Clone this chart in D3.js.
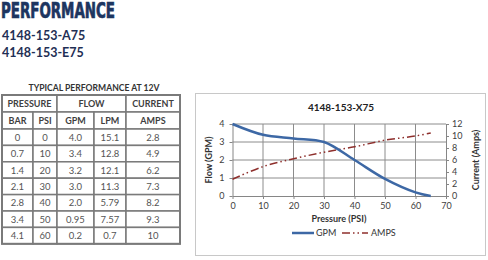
<!DOCTYPE html>
<html lang="en">
<head>
<meta charset="UTF-8" />
<title>Performance - 4148-153-X75</title>
<script src="https://d3js.org/d3.v7.min.js"></script>
<style>
    body { margin: 0; background: #fff; }
    svg { display: block; font-family: 'Lato', 'Open Sans', sans-serif; }
    .heading { font-family: 'Liberation Sans Narrow', 'DejaVu Sans Condensed', sans-serif; font-weight: bold; fill: #1d3560; stroke: #1d3560; stroke-width: 0.7; }
    .model { font-weight: bold; fill: #1f2f55; font-size: 12.5px; }
    .cell { fill: #fff; stroke: #7a7a7a; stroke-width: 1.5; }
    .cell-text { font-size: 9.5px; fill: #555; text-anchor: middle; }
    .cell-head { font-size: 9px; fill: #3f3f3f; font-weight: bold; text-anchor: middle; }
    .tick text { font-size: 9px; fill: #404040; font-family: 'Lato', sans-serif; }
    .grid line { stroke: #8c8c8c; stroke-width: 1; }
</style>
</head>
<body>
<svg id="page" width="488" height="260"></svg>
<script>
    // pump models
    const models = ["4148-153-A75", "4148-153-E75"];

    // table data (typical performance at 12V)
    const bar  = ["0", "0.7", "1.4", "2.1", "2.8", "3.4", "4.1"];
    const psi  = ["0", "10", "20", "30", "40", "50", "60"];
    const gpm  = ["4.0", "3.4", "3.2", "3.0", "2.0", "0.95", "0.2"];
    const lpm  = ["15.1", "12.8", "12.1", "11.3", "5.79", "7.57", "0.7"];
    const amps = ["2.8", "4.9", "6.2", "7.3", "8.2", "9.3", "10"];

    // chart series
    const pressure = [0, 10, 20, 30, 40, 50, 60, 65];
    const flowGpm  = [4.0, 3.4, 3.2, 3.0, 2.0, 0.95, 0.2, 0];
    const current  = [2.8, 4.9, 6.2, 7.3, 8.2, 9.3, 10, 10.5];

    const xTicks = [0, 10, 20, 30, 40, 50, 60, 70];
    const yTicks = [0, 1, 2, 3, 4];
    const y2Ticks = [0, 2, 4, 6, 8, 10, 12];

    const svg = d3.select("#page");

    // ---- heading ----
    svg.append("text").attr("class", "heading")
        .attr("x", 1).attr("y", 18)
        .attr("font-size", 21)
        .attr("textLength", 114).attr("lengthAdjust", "spacingAndGlyphs")
        .text("PERFORMANCE");

    svg.selectAll(".model").data(models).enter()
        .append("text").attr("class", "model")
        .attr("x", 2)
        .attr("y", (d, i) => 40 + i * 17)
        .text(d => d);

    // ---- table ----
    const colEdges = [2, 33, 57, 94, 126, 180];
    const tTop = 95, headH = 17, rowH = 16.4;

    svg.append("text")
        .attr("x", 94).attr("y", 91)
        .attr("text-anchor", "middle")
        .attr("font-size", 8.6).attr("font-weight", "bold").attr("fill", "#333")
        .text("TYPICAL PERFORMANCE AT 12V");

    const table = svg.append("g");

    // header row 1 (spans)
    const head1 = [
        { label: "PRESSURE", c0: 0, c1: 2 },
        { label: "FLOW", c0: 2, c1: 4 },
        { label: "CURRENT", c0: 4, c1: 5 }
    ];
    const head2 = ["BAR", "PSI", "GPM", "LPM", "AMPS"];

    function cell(x0, x1, y0, h, label, cls) {
        table.append("rect").attr("class", "cell")
            .attr("x", x0).attr("y", y0)
            .attr("width", x1 - x0).attr("height", h);
        table.append("text").attr("class", cls)
            .attr("x", (x0 + x1) / 2).attr("y", y0 + h / 2 + 3.5)
            .text(label);
    }

    head1.forEach(h => cell(colEdges[h.c0], colEdges[h.c1], tTop, headH, h.label, "cell-head"));
    head2.forEach((h, i) => cell(colEdges[i], colEdges[i + 1], tTop + headH, headH, h, "cell-head"));

    const columns = [bar, psi, gpm, lpm, amps];
    for (let r = 0; r < bar.length; r++) {
        columns.forEach((col, c) => {
            cell(colEdges[c], colEdges[c + 1], tTop + 2 * headH + r * rowH, rowH, col[r], "cell-text");
        });
    }
    table.append("rect")
        .attr("x", colEdges[0]).attr("y", tTop)
        .attr("width", colEdges[5] - colEdges[0])
        .attr("height", 2 * headH + bar.length * rowH)
        .attr("fill", "none").attr("stroke", "#7a7a7a").attr("stroke-width", 2);

    // ---- chart ----
    svg.append("rect")
        .attr("x", 195.5).attr("y", 93.5).attr("width", 290).attr("height", 162)
        .attr("fill", "#fff").attr("stroke", "#c8c8c8");

    const x = d3.scaleLinear().domain([0, 70]).range([232.5, 446]);
    const y = d3.scaleLinear().domain([0, 4]).range([196, 124]);
    const y2 = d3.scaleLinear().domain([0, 12]).range([196, 124]);

    svg.append("text")
        .attr("x", 341).attr("y", 111)
        .attr("text-anchor", "middle")
        .attr("font-size", 10).attr("font-weight", "bold").attr("fill", "#222")
        .text("4148-153-X75");

    // gridlines
    svg.append("g").attr("class", "grid")
        .selectAll("line").data(yTicks.slice(1)).enter().append("line")
        .attr("x1", x(0)).attr("x2", x(70))
        .attr("y1", d => y(d)).attr("y2", d => y(d));
    svg.append("g").attr("class", "grid")
        .selectAll("line").data(xTicks.slice(1, -1)).enter().append("line")
        .attr("x1", d => x(d)).attr("x2", d => x(d))
        .attr("y1", y(0)).attr("y2", y(4));

    const axisStyle = g => {
        g.select(".domain").attr("stroke", "#868686");
        g.selectAll(".tick line").attr("stroke", "#868686");
    };

    svg.append("g")
        .attr("transform", `translate(0,${y(0)})`)
        .call(d3.axisBottom(x).tickValues(xTicks).tickFormat(d3.format("d"))
            .tickSize(3).tickSizeOuter(0).tickPadding(4))
        .call(axisStyle);

    svg.append("g")
        .attr("transform", `translate(${x(0)},0)`)
        .call(d3.axisLeft(y).tickValues(yTicks).tickFormat(d3.format("d"))
            .tickSize(3).tickSizeOuter(0).tickPadding(5))
        .call(axisStyle);

    svg.append("g")
        .attr("transform", `translate(${x(70)},0)`)
        .call(d3.axisRight(y2).tickValues(y2Ticks).tickFormat(d3.format("d"))
            .tickSize(3).tickSizeOuter(0).tickPadding(3))
        .call(axisStyle);

    // axis titles
    svg.append("text")
        .attr("x", 339).attr("y", 222)
        .attr("text-anchor", "middle")
        .attr("font-size", 9).attr("font-weight", "bold").attr("fill", "#333")
        .text("Pressure (PSI)");

    svg.append("text")
        .attr("transform", `translate(212,${y(2)}) rotate(-90)`)
        .attr("text-anchor", "middle")
        .attr("font-size", 9).attr("font-weight", "bold").attr("fill", "#333")
        .text("Flow (GPM)");

    svg.append("text")
        .attr("transform", `translate(479,${y(2)}) rotate(-90)`)
        .attr("text-anchor", "middle")
        .attr("font-size", 9).attr("font-weight", "bold").attr("fill", "#333")
        .text("Current (Amps)");

    // series
    const idx = d3.range(pressure.length);

    const ampLine = d3.line()
        .x(i => x(pressure[i]))
        .y(i => y2(current[i]))
        .curve(d3.curveCatmullRom);

    svg.append("path")
        .datum(idx)
        .attr("d", ampLine)
        .attr("fill", "none")
        .attr("stroke", "#8e2f2c")
        .attr("stroke-width", 1.5)
        .attr("stroke-dasharray", "8,3,1.5,3,1.5,3");

    const flowLine = d3.line()
        .x(i => x(pressure[i]))
        .y(i => y(flowGpm[i]))
        .curve(d3.curveCatmullRom);

    svg.append("path")
        .datum(idx)
        .attr("d", flowLine)
        .attr("fill", "none")
        .attr("stroke", "#3d68a5")
        .attr("stroke-width", 2.5);

    // legend
    const legendY = 233;
    const legend = svg.append("g").attr("font-size", 9).attr("fill", "#333");
    legend.append("line")
        .attr("x1", 292).attr("x2", 314).attr("y1", legendY).attr("y2", legendY)
        .attr("stroke", "#3d68a5").attr("stroke-width", 2.5);
    legend.append("text").attr("x", 316).attr("y", legendY + 3).text("GPM");
    legend.append("line")
        .attr("x1", 342).attr("x2", 368).attr("y1", legendY).attr("y2", legendY)
        .attr("stroke", "#8e2f2c").attr("stroke-width", 1.5)
        .attr("stroke-dasharray", "8,3,1.5,3,1.5,3");
    legend.append("text").attr("x", 371).attr("y", legendY + 3).text("AMPS");
</script>
</body>
</html>
